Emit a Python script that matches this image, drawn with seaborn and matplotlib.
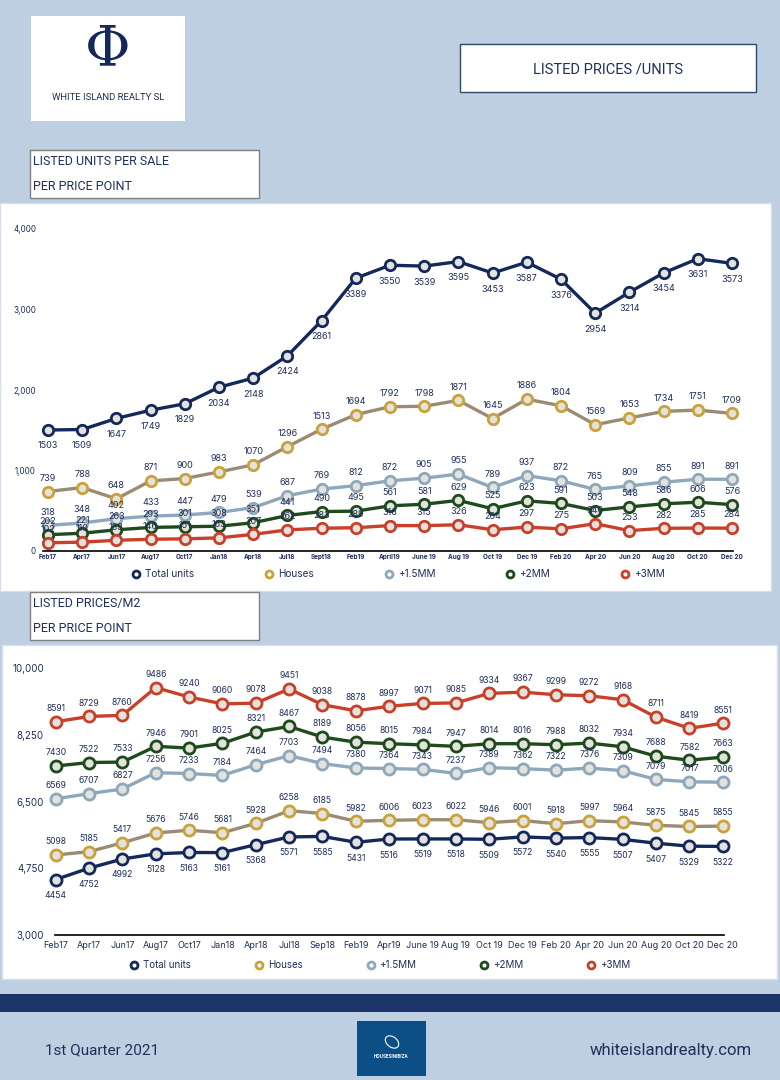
import matplotlib
matplotlib.use('Agg')
import matplotlib.pyplot as plt
import matplotlib.patches as mpatches
from matplotlib.lines import Line2D
import seaborn as sns
import pandas as pd


# --- data ---
months_units = ['Feb17', 'Apr17', 'Jun17', 'Aug17', 'Oct17', 'Jan18', 'Apr18', 'Jul18', 'Sept18',
                'Feb19', 'April19', 'June 19', 'Aug 19', 'Oct 19', 'Dec 19', 'Feb 20', 'Apr 20',
                'Jun 20', 'Aug 20', 'Oct 20', 'Dec 20']
months_m2 = ['Feb17', 'Apr17', 'Jun17', 'Aug17', 'Oct17', 'Jan18', 'Apr18', 'Jul18', 'Sep18',
             'Feb19', 'Apr19', 'June 19', 'Aug 19', 'Oct 19', 'Dec 19', 'Feb 20', 'Apr 20',
             'Jun 20', 'Aug 20', 'Oct 20', 'Dec 20']
series_names = ['Total units', 'Houses', '+1.5MM', '+2MM', '+3MM']

units_total = [1503, 1509, 1647, 1749, 1829, 2034, 2148, 2424, 2861, 3389, 3550, 3539, 3595, 3453,
               3587, 3376, 2954, 3214, 3454, 3631, 3573]
units_houses = [739, 788, 648, 871, 900, 983, 1070, 1296, 1513, 1694, 1792, 1798, 1871, 1645, 1886,
                1804, 1569, 1653, 1734, 1751, 1709]
units_15mm = [318, 348, 402, 433, 447, 479, 539, 687, 769, 812, 872, 905, 955, 789, 937, 872, 765,
              809, 855, 891, 891]
units_2mm = [202, 221, 263, 293, 301, 308, 351, 441, 490, 495, 561, 581, 629, 525, 623, 591, 503,
             548, 586, 606, 576]
units_3mm = [102, 110, 133, 146, 151, 163, 207, 262, 283, 289, 316, 315, 326, 264, 297, 275, 340,
             253, 282, 285, 284]

m2_total = [4454, 4752, 4992, 5128, 5163, 5161, 5368, 5571, 5585, 5431, 5516, 5519, 5518, 5509,
            5572, 5540, 5555, 5507, 5407, 5329, 5322]
m2_houses = [5098, 5185, 5417, 5676, 5746, 5681, 5928, 6258, 6185, 5982, 6006, 6023, 6022, 5946,
             6001, 5918, 5997, 5964, 5875, 5845, 5855]
m2_15mm = [6569, 6707, 6827, 7256, 7233, 7184, 7464, 7703, 7494, 7380, 7364, 7343, 7237, 7389,
           7362, 7322, 7376, 7309, 7079, 7017, 7006]
m2_2mm = [7430, 7522, 7533, 7946, 7901, 8025, 8321, 8467, 8189, 8056, 8015, 7984, 7947, 8014,
          8016, 7988, 8032, 7934, 7688, 7582, 7663]
m2_3mm = [8591, 8729, 8760, 9486, 9240, 9060, 9078, 9451, 9038, 8878, 8997, 9071, 9085, 9334,
          9367, 9299, 9272, 9168, 8711, 8419, 8551]

units_ticks = [0, 1000, 2000, 3000, 4000]
m2_ticks = [3000, 4750, 6500, 8250, 10000]


def to_long(months, cols):
    rows = []
    for name, vals in zip(series_names, cols):
        for i, v in enumerate(vals):
            rows.append({'pos': i, 'month': months[i], 'series': name, 'value': v})
    return pd.DataFrame(rows)


df_units = to_long(months_units, [units_total, units_houses, units_15mm, units_2mm, units_3mm])
df_m2 = to_long(months_m2, [m2_total, m2_houses, m2_15mm, m2_2mm, m2_3mm])

# --- style ---
BG = '#bdcfe1'
NAVY = '#14285a'
TXT = '#1f2e5a'
FACE = '#e4e2dd'
line_col = {'Total units': '#14285a', 'Houses': '#9a8b74', '+1.5MM': '#8ea8bb',
            '+2MM': '#1e4a1c', '+3MM': '#c8402a'}
edge_col = {'Total units': '#14285a', 'Houses': '#c9a23a', '+1.5MM': '#8ea8bb',
            '+2MM': '#1e4a1c', '+3MM': '#c8402a'}

sns.set_theme(style='white')
plt.rcParams['font.family'] = ['Inter', 'DejaVu Sans']
NARROW = ['Liberation Sans Narrow', 'Roboto', 'DejaVu Sans']

W, H = 780, 1080
fig = plt.figure(figsize=(7.8, 10.8), dpi=100, facecolor=BG)


def box(x0, y0, x1, y1, **kw):
    kw.setdefault('zorder', -1)
    fig.add_artist(mpatches.Rectangle((x0 / W, 1 - y1 / H), (x1 - x0) / W, (y1 - y0) / H,
                                      transform=fig.transFigure, **kw))


def txt(x, y, s, **kw):
    fig.text(x / W, 1 - y / H, s, **kw)


def axes_px(x0, y0, x1, y1):
    return fig.add_axes([x0 / W, 1 - y1 / H, (x1 - x0) / W, (y1 - y0) / H])


# --- page furniture ---
box(31, 16, 185, 121, facecolor='white', edgecolor='none')
txt(108, 50, 'Φ', fontsize=40, family='DejaVu Serif', color=NAVY, ha='center', va='center')
txt(108, 98, 'WHITE ISLAND REALTY SL', fontsize=6.8, family=NARROW, color=TXT,
    ha='center', va='center')

box(460, 44, 756, 92, facecolor='white', edgecolor='#2c4a6b', linewidth=1)
txt(608, 69, 'LISTED PRICES /UNITS', fontsize=10.5, family=NARROW, color=TXT,
    ha='center', va='center')

box(30, 150, 259, 198, facecolor='white', edgecolor='#808080', linewidth=1)
txt(33, 161, 'LISTED UNITS PER SALE', fontsize=9, family=NARROW, color=TXT, va='center')
txt(33, 187, 'PER PRICE POINT', fontsize=9, family=NARROW, color=TXT, va='center')

box(0, 203, 771, 591, facecolor='white', edgecolor='#d5e0ec', linewidth=1, zorder=-2)

box(30, 592, 259, 640, facecolor='white', edgecolor='#808080', linewidth=1)
txt(33, 604, 'LISTED PRICES/M2', fontsize=9, family=NARROW, color=TXT, va='center')
txt(33, 629, 'PER PRICE POINT', fontsize=9, family=NARROW, color=TXT, va='center')

box(2, 645, 777, 979, facecolor='white', edgecolor='#d5e0ec', linewidth=1, zorder=-2)

box(0, 994, 780, 1012, facecolor='#1d3468', edgecolor='none')

txt(45, 1050, '1st Quarter 2021', fontsize=11, family=NARROW, color=TXT, va='center')
txt(752, 1050, 'whiteislandrealty.com', fontsize=12, family=NARROW, color=TXT,
    ha='right', va='center')
box(357, 1021, 426, 1076, facecolor='#0b4f86', edgecolor='none')
fig.add_artist(mpatches.Ellipse((392 / W, 1 - 1042 / H), 14 / W, 11 / H, angle=-20,
                                transform=fig.transFigure, fill=False, edgecolor='white',
                                linewidth=0.8))
txt(391, 1057, 'HOUSESINIBIZA', fontsize=3.2, weight='bold', color='white',
    ha='center', va='center')


# --- charts ---
def draw_chart(ax, df, months, ticks, xlim, ms, lw, lab_fs, tick_fs, ytick_fs, xbold, xpad, ypad):
    for name in series_names:
        sub = df[df['series'] == name]
        sns.lineplot(data=sub, x='pos', y='value', ax=ax, sort=False, color=line_col[name],
                     linewidth=lw, marker='o', markersize=ms, markerfacecolor=FACE,
                     markeredgecolor=edge_col[name], markeredgewidth=2.0, clip_on=False,
                     legend=False)
    for name in series_names:
        sub = df[df['series'] == name]
        off = -11.5 if name == 'Total units' else 9.5
        for p, v in zip(sub['pos'], sub['value']):
            ax.annotate(str(v), (p, v), xytext=(0, off), textcoords='offset points',
                        ha='center', va='center', fontsize=lab_fs, color=TXT, zorder=10,
                        annotation_clip=False)
    ax.set_facecolor('none')
    ax.set_xlim(*xlim)
    ax.set_ylim(ticks[0], ticks[-1])
    ax.set_xticks(range(len(months)))
    ax.set_xticklabels(months, fontsize=tick_fs, color=TXT,
                       fontweight='bold' if xbold else 'normal')
    ax.set_yticks(ticks)
    ax.set_yticklabels([f'{t:,}' for t in ticks], fontsize=ytick_fs, color=TXT)
    ax.tick_params(axis='x', length=0, pad=xpad)
    ax.tick_params(axis='y', length=0, pad=ypad)
    ax.set_xlabel('')
    ax.set_ylabel('')
    for s in ['top', 'right', 'left']:
        ax.spines[s].set_visible(False)
    ax.spines['bottom'].set_color('black')
    ax.spines['bottom'].set_linewidth(1.2)
    ax.grid(False)


def add_legend(ax, cx, cy, fs, colspace):
    handles = [Line2D([], [], ls='none', marker='o', markersize=5, markerfacecolor='white',
                      markeredgecolor=edge_col[n], markeredgewidth=2.0) for n in series_names]
    leg = ax.legend(handles, series_names, loc='center', ncol=5, frameon=False,
                    bbox_to_anchor=(cx / W, 1 - cy / H), bbox_transform=fig.transFigure,
                    fontsize=fs, handlelength=1.0, handletextpad=0.4, columnspacing=colspace)
    for t in leg.get_texts():
        t.set_color(TXT)


ax1 = axes_px(43, 229, 733, 551)
draw_chart(ax1, df_units, months_units, units_ticks, (-0.146, 20.03), ms=7.5, lw=2.4,
           lab_fs=6.5, tick_fs=4.6, ytick_fs=5.8, xbold=True, xpad=2, ypad=5)
add_legend(ax1, 398, 574, 7.2, 7.0)

ax2 = axes_px(55, 668, 724, 935)
draw_chart(ax2, df_m2, months_m2, m2_ticks, (-0.02, 20.04), ms=8, lw=2.4,
           lab_fs=6.2, tick_fs=6.5, ytick_fs=7, xbold=False, xpad=4.5, ypad=8)
add_legend(ax2, 380, 965, 7.0, 6.5)

fig.savefig('out.png', dpi=100, facecolor=BG)
